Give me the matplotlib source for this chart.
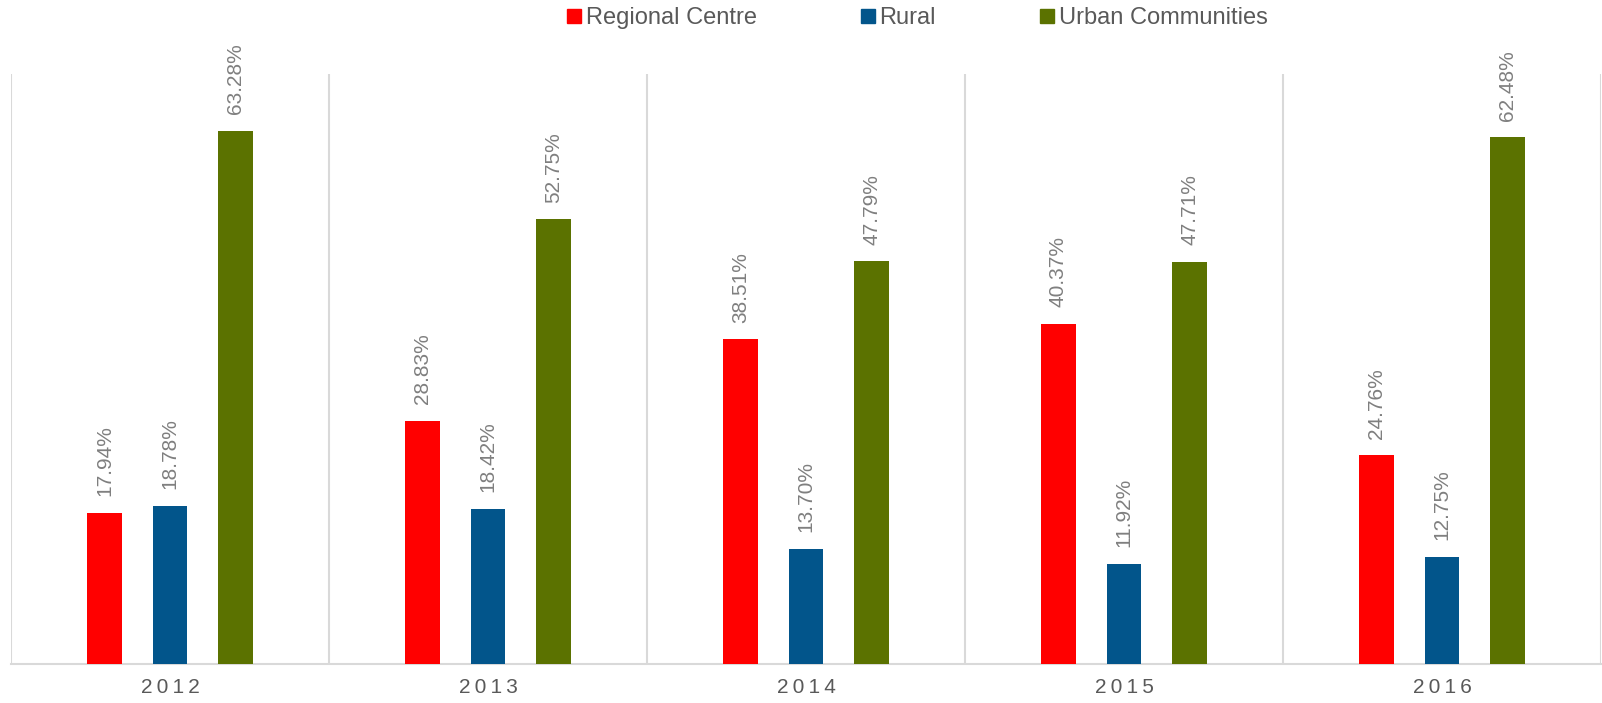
import numpy as np
import matplotlib.pyplot as plt
from matplotlib.lines import Line2D

years = ["2012", "2013", "2014", "2015", "2016"]
series = ["Regional Centre", "Rural", "Urban Communities"]
regional = [17.94, 28.83, 38.51, 40.37, 24.76]
rural = [18.78, 18.42, 13.70, 11.92, 12.75]
urban = [63.28, 52.75, 47.79, 47.71, 62.48]
colors = ["#ff0000", "#02558b", "#5b7200"]

plt.rcParams["font.family"] = ["Liberation Sans", "DejaVu Sans"]

fig = plt.figure(figsize=(16.02, 7.03), dpi=100)
ax = fig.add_axes([11 / 1602, 39 / 703, 1590 / 1602, 590 / 703])

x = np.arange(len(years))
step = 0.206
width = 0.107
for i, (vals, c) in enumerate(zip([regional, rural, urban], colors)):
    pos = x + (i - 1) * step
    ax.bar(pos, vals, width, color=c, zorder=3)
    for px, v in zip(pos, vals):
        ax.annotate(f"{v:.2f}%", (px, v), xytext=(0, 12), textcoords="offset points",
                    rotation=90, ha="center", va="bottom", fontsize=15, color="#7f7f7f")

ax.set_xlim(-0.5, len(years) - 0.5)
ax.set_ylim(0, 70)
ax.set_yticks([])
ax.set_xticks(x)
ax.set_xticklabels(["\u2009".join(y) for y in years], fontsize=15, color="#595959")
ax.set_xticks(np.arange(-0.5, len(years)), minor=True)
ax.tick_params(axis="x", which="both", length=0, pad=10)
ax.grid(which="minor", axis="x", color="#d9d9d9", linewidth=1.5)
for s in ["top", "right", "left"]:
    ax.spines[s].set_visible(False)
ax.spines["bottom"].set_color("#d9d9d9")
ax.spines["bottom"].set_linewidth(1.5)

handles = [Line2D([], [], marker="s", linestyle="none", markersize=9.4, color=c) for c in colors]
leg = fig.legend(handles, series, loc="center", bbox_to_anchor=(915 / 1602, 1 - 18 / 703),
                 ncol=3, frameon=False, fontsize=17, handletextpad=0.0, columnspacing=4.2,
                 handlelength=1.0)
for t in leg.get_texts():
    t.set_color("#595959")

fig.savefig("out.png", dpi=100)
